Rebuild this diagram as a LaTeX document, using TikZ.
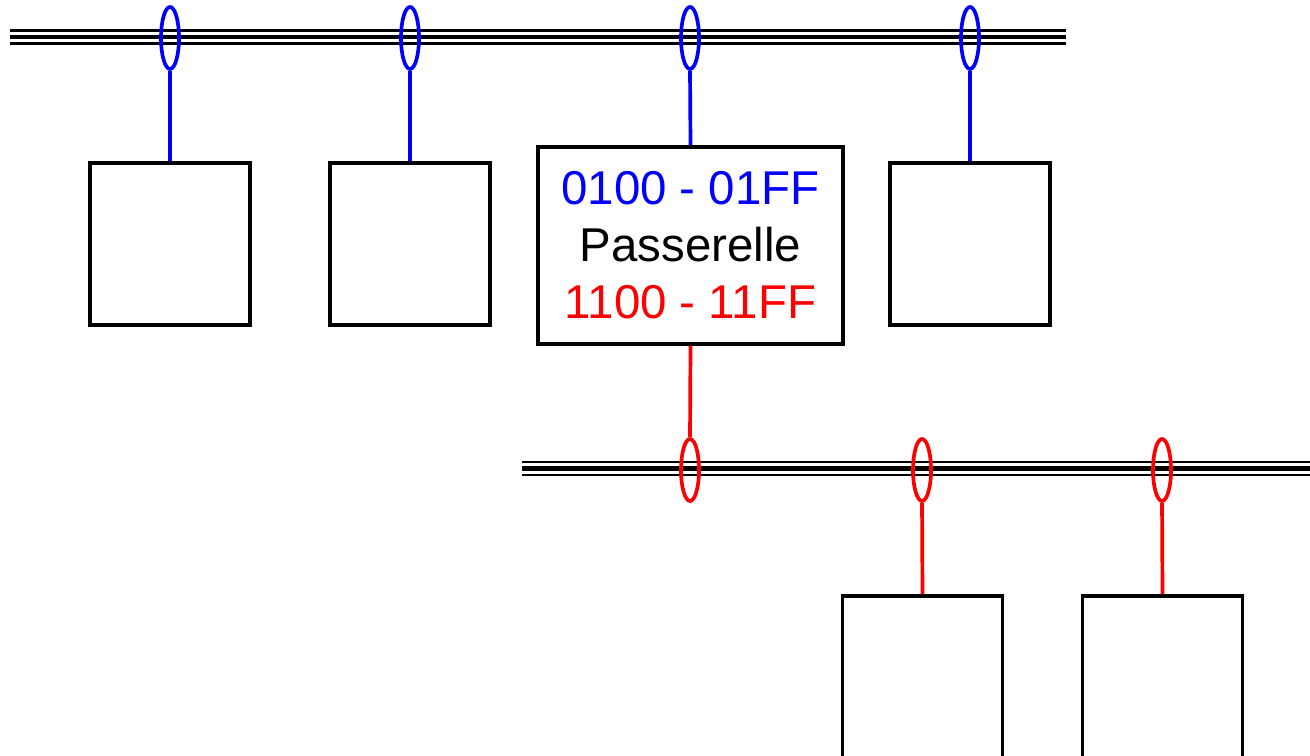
\documentclass[tikz,border=0pt]{standalone}
\usepackage{fontspec}
\setmainfont{Liberation Sans}
\usetikzlibrary{shapes.geometric}
\tikzset{
  busthin/.style={line width=1.5pt},
  busthick/.style={line width=2.3pt},
  station/.style={draw, fill=white, line width=2.1pt, minimum width=3.2cm, minimum height=3.24cm, inner sep=0pt},
  tapring/.style={ellipse, draw, line width=2.1pt, minimum width=0.36cm, minimum height=1.24cm, inner sep=0pt},
  stubln/.style={line width=2.1pt},
}

\begin{document}
\begin{tikzpicture}[x=0.02cm, y=-0.02cm]
    \useasboundingbox (0,0) rectangle (1310,756);
    % upper bus
    \draw[busthin] (10,30.5) -- (1066,30.5);
    \draw[busthick] (10,37) -- (1066,37);
    \draw[busthin] (10,43.5) -- (1066,43.5);
    % lower bus
    \draw[busthin] (522,462) -- (1310,462);
    \draw[busthick] (522,468.5) -- (1310,468.5);
    \draw[busthin] (522,475) -- (1310,475);
    % stations on the upper bus
    \node[station] (st1) at (170,244) {};
    \node[station] (st2) at (410,244) {};
    \node[station] (st4) at (970,244) {};
    % gateway
    \node[draw, fill=white, line width=2.1pt, minimum width=6.1cm, minimum height=3.94cm,
      inner sep=0pt, align=center, font=\fontsize{27}{32.5}\selectfont] (gw) at (690.5,245.5)
      {{\color{blue}0100 - 01FF}\\Passerelle\\{\color{red}1100 - 11FF}};
    % stations on the lower bus
    \node[station] (st5) at (922.5,677) {};
    \node[station] (st6) at (1162.5,677) {};
    % taps
    \foreach \i/\x in {1/170,2/410,3/690,4/970}
      \node[tapring, blue] (up\i) at (\x,38) {};
    \foreach \i/\x in {1/690,2/922,3/1162}
      \node[tapring, red] (lo\i) at (\x,470) {};
    % stubs
    \draw[stubln, blue] (up1.south) -- (st1.north);
    \draw[stubln, blue] (up2.south) -- (st2.north);
    \draw[stubln, blue] (up3.south) -- (gw.north);
    \draw[stubln, blue] (up4.south) -- (st4.north);
    \draw[stubln, red] (gw.south) -- (lo1.north);
    \draw[stubln, red] (lo2.south) -- (st5.north);
    \draw[stubln, red] (lo3.south) -- (st6.north);
\end{tikzpicture}
\end{document}
